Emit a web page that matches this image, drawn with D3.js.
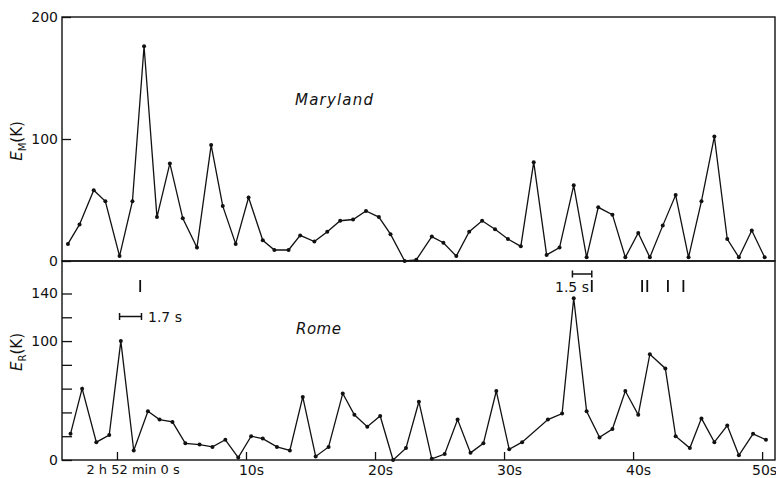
<!DOCTYPE html>
<html>
<head>
<meta charset="utf-8">
<script src="https://cdn.jsdelivr.net/npm/d3@7"></script>
<style>
body { margin: 0; background: #fff; }
svg { display: block; }
.axis text { font-family: "DejaVu Sans", sans-serif; font-size: 14px; fill: #111; }
.axis line { stroke: #111; stroke-width: 1.3; }
.axis path { display: none; }
</style>
</head>
<body>
<div id="chart"></div>
<script>
// seconds after 2 h 52 min 0 s
var timesM = [-3.8, -2.9, -1.8, -0.9, 0.2, 1.2, 2.1, 3.1, 4.1, 5.1, 6.2, 7.3, 8.2, 9.2, 10.2,
	11.3, 12.2, 13.3, 14.2, 15.3, 16.3, 17.3, 18.3, 19.3, 20.3, 21.2, 22.3, 23.2, 24.4, 25.3,
	26.3, 27.3, 28.3, 29.3, 30.3, 31.3, 32.3, 33.3, 34.3, 35.4, 36.4, 37.3, 38.4, 39.4, 40.4,
	41.3, 42.3, 43.3, 44.3, 45.3, 46.3, 47.3, 48.2, 49.2, 50.2];
var valuesM = [14, 30, 58, 49, 4, 49, 176, 36, 80, 35, 11, 95, 45, 14, 52,
	17, 9, 9, 21, 16, 24, 33, 34, 41, 36, 22, 0, 1, 20, 15,
	4, 24, 33, 26, 18, 12, 81, 5, 11, 62, 3, 44, 38, 3, 23,
	3, 29, 54, 3, 49, 102, 18, 3, 25, 3];

var timesR = [-3.6, -2.7, -1.6, -0.6, 0.3, 1.3, 2.4, 3.3, 4.3, 5.3, 6.4, 7.4, 8.4, 9.4, 10.4,
	11.3, 12.4, 13.4, 14.4, 15.4, 16.4, 17.5, 18.4, 19.4, 20.4, 21.4, 22.4, 23.4, 24.4, 25.4,
	26.4, 27.4, 28.4, 29.4, 30.4, 31.4, 33.4, 34.5, 35.4, 36.4, 37.4, 38.4, 39.4, 40.4, 41.3,
	42.5, 43.3, 44.4, 45.3, 46.3, 47.3, 48.2, 49.3, 50.3];
var valuesR = [22, 60, 15, 21, 100, 8, 41, 34, 32, 14, 13, 11, 17, 2, 20,
	18, 11, 8, 53, 3, 11, 56, 38, 28, 37, 0, 10, 49, 1, 5,
	34, 6, 14, 58, 9, 15, 34, 39, 136, 41, 19, 26, 58, 38, 89,
	77, 20, 10, 35, 15, 29, 4, 22, 17];

var xTicks = [0, 10, 20, 30, 40, 50];
var xTickLabels = ["2 h 52 min 0 s", "10s", "20s", "30s", "40s", "50s"];
var yTicksM = [0, 100, 200];
var yTicksR = [0, 20, 40, 60, 80, 100, 120, 140];
var yLabelsR = [0, 100, 140];

// event marks and duration bars (seconds)
var marks = [1.8, 36.8, 40.7, 41.1, 42.7, 43.9];
var barStarts = [0.2, 35.3];
var barLengths = [1.7, 1.5];
var barLabels = ["1.7 s", "1.5 s"];

function init() {
	var width = 776;
	var height = 478;
	var left = 62, right = 775;
	var topM = 17, bottomM = 261;
	var bottomR = 460;

	var svg = d3.select("#chart")
		.append("svg")
		.attr("width", width)
		.attr("height", height);

	var xScale = d3.scaleLinear()
		.domain([-4.26, 51.0])
		.range([left, right]);

	var yScaleM = d3.scaleLinear()
		.domain([0, 200])
		.range([bottomM, topM]);

	var yScaleR = d3.scaleLinear()
		.domain([0, 140])
		.range([bottomR, 293.5]);

	// frames
	svg.append("rect")
		.attr("x", left).attr("y", topM)
		.attr("width", right - left).attr("height", bottomM - topM)
		.attr("fill", "none").attr("stroke", "#111").attr("stroke-width", 1.4);
	svg.append("rect")
		.attr("x", left).attr("y", bottomM)
		.attr("width", right - left).attr("height", bottomR - bottomM)
		.attr("fill", "none").attr("stroke", "#111").attr("stroke-width", 1.4);

	// y axes
	svg.append("g")
		.attr("class", "axis")
		.attr("transform", "translate(" + left + ",0)")
		.call(d3.axisLeft(yScaleM).tickValues(yTicksM).tickSizeInner(-9).tickSizeOuter(0).tickPadding(4));

	svg.append("g")
		.attr("class", "axis")
		.attr("transform", "translate(" + left + ",0)")
		.call(d3.axisLeft(yScaleR).tickValues(yTicksR).tickSizeInner(-10).tickSizeOuter(0).tickPadding(4)
			.tickFormat(function(d) {
				return yLabelsR.indexOf(d) >= 0 ? d : "";
			}));

	// x axis
	var xAxis = svg.append("g")
		.attr("class", "axis")
		.attr("transform", "translate(0," + bottomR + ")")
		.call(d3.axisBottom(xScale).tickValues(xTicks).tickSizeInner(-8).tickSizeOuter(0).tickPadding(5)
			.tickFormat(function(d, i) {
				return xTickLabels[i];
			}));
	xAxis.selectAll("text")
		.attr("dx", function(d, i) { return i == 0 ? -31 : (i == 5 ? 2 : 5); })
		.attr("text-anchor", function(d, i) { return i == 0 ? "start" : "middle"; })
		.style("font-size", function(d, i) { return i == 0 ? "13px" : "14px"; });

	// axis titles
	var titles = [["M", (topM + bottomM) / 2 + 2], ["R", 352]];
	titles.forEach(function(t) {
		var txt = svg.append("text")
			.attr("transform", "translate(22," + t[1] + ") rotate(-90)")
			.attr("text-anchor", "middle")
			.attr("font-family", "DejaVu Sans, sans-serif")
			.attr("font-size", "15px")
			.attr("fill", "#111");
		txt.append("tspan").attr("font-style", "italic").text("E");
		txt.append("tspan").attr("font-size", "10px").attr("dy", 4).text(t[0]);
		txt.append("tspan").attr("dy", -4).text("(K)");
	});

	// series
	var lineM = d3.line()
		.x(function(d, i) { return xScale(timesM[i]); })
		.y(function(d) { return yScaleM(d); });
	var lineR = d3.line()
		.x(function(d, i) { return xScale(timesR[i]); })
		.y(function(d) { return yScaleR(d); });

	svg.append("path")
		.datum(valuesM)
		.attr("d", lineM)
		.attr("fill", "none")
		.attr("stroke", "#111")
		.attr("stroke-width", 1.3);
	svg.append("path")
		.datum(valuesR)
		.attr("d", lineR)
		.attr("fill", "none")
		.attr("stroke", "#111")
		.attr("stroke-width", 1.3);

	svg.selectAll("circle.m")
		.data(valuesM)
		.enter()
		.append("circle")
		.attr("class", "m")
		.attr("cx", function(d, i) { return xScale(timesM[i]); })
		.attr("cy", function(d) { return yScaleM(d); })
		.attr("r", 2)
		.attr("fill", "#111");
	svg.selectAll("circle.r")
		.data(valuesR)
		.enter()
		.append("circle")
		.attr("class", "r")
		.attr("cx", function(d, i) { return xScale(timesR[i]); })
		.attr("cy", function(d) { return yScaleR(d); })
		.attr("r", 2)
		.attr("fill", "#111");

	// station names
	svg.append("text")
		.attr("x", 295).attr("y", 105)
		.attr("font-family", "DejaVu Sans, sans-serif")
		.attr("font-style", "italic")
		.attr("font-size", "15px")
		.attr("letter-spacing", "1.2px")
		.attr("fill", "#111")
		.text("Maryland");
	svg.append("text")
		.attr("x", 296).attr("y", 334)
		.attr("font-family", "DejaVu Sans, sans-serif")
		.attr("font-style", "italic")
		.attr("font-size", "15px")
		.attr("letter-spacing", "0.5px")
		.attr("fill", "#111")
		.text("Rome");

	// event marks
	svg.selectAll("line.mark")
		.data(marks)
		.enter()
		.append("line")
		.attr("class", "mark")
		.attr("x1", function(d) { return xScale(d); })
		.attr("x2", function(d) { return xScale(d); })
		.attr("y1", 280)
		.attr("y2", 292)
		.attr("stroke", "#111")
		.attr("stroke-width", 1.8);

	// duration bars
	var barY = [316.5, 274];
	barStarts.forEach(function(s, i) {
		var x1 = xScale(s), x2 = xScale(s + barLengths[i]);
		var g = svg.append("g").attr("stroke", "#111").attr("stroke-width", 1.5);
		g.append("line").attr("x1", x1).attr("x2", x2).attr("y1", barY[i]).attr("y2", barY[i]);
		g.append("line").attr("x1", x1).attr("x2", x1).attr("y1", barY[i] - 3.5).attr("y2", barY[i] + 3.5);
		g.append("line").attr("x1", x2).attr("x2", x2).attr("y1", barY[i] - 3.5).attr("y2", barY[i] + 3.5);
	});
	svg.append("text")
		.attr("x", 148).attr("y", 322)
		.attr("font-family", "DejaVu Sans, sans-serif")
		.attr("font-size", "14px")
		.attr("fill", "#111")
		.text(barLabels[0]);
	svg.append("text")
		.attr("x", 555).attr("y", 292)
		.attr("font-family", "DejaVu Sans, sans-serif")
		.attr("font-size", "14px")
		.attr("fill", "#111")
		.text(barLabels[1]);
}
window.onload = init;
</script>
</body>
</html>
